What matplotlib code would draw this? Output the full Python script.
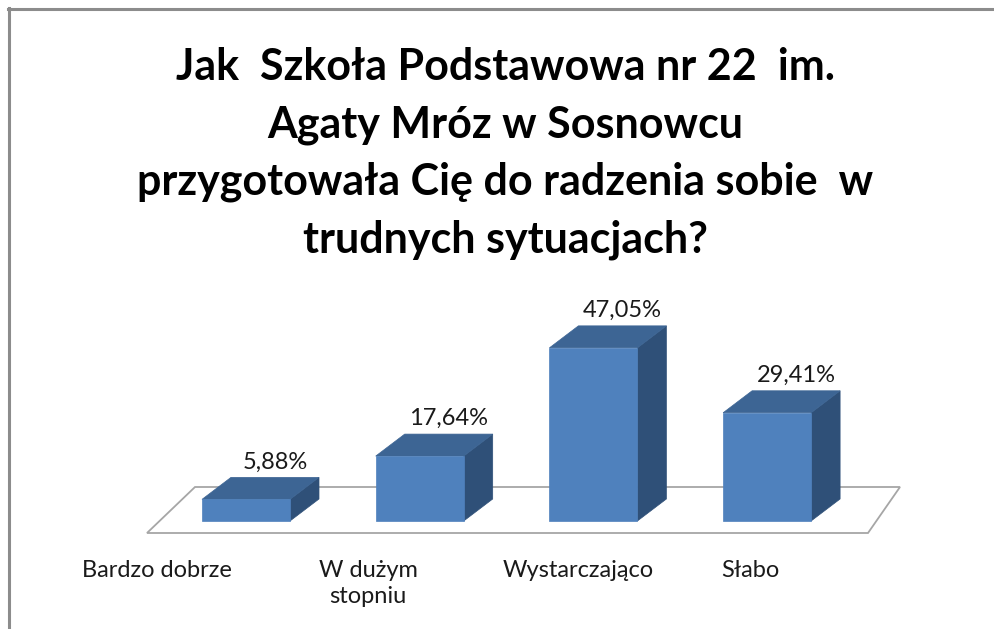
import matplotlib
matplotlib.use("Agg")
import matplotlib.pyplot as plt
from matplotlib.patches import Polygon, Rectangle

categories = ["Bardzo dobrze", "W dużym\nstopniu", "Wystarczająco", "Słabo"]
values = [5.88, 17.64, 47.05, 29.41]
value_labels = ["5,88%", "17,64%", "47,05%", "29,41%"]
title = "Jak  Szkoła Podstawowa nr 22  im.\nAgaty Mróz w Sosnowcu\nprzygotowała Cię do radzenia sobie  w\ntrudnych sytuacjach?"

W, H = 994, 629
fig = plt.figure(figsize=(W / 100, H / 100), dpi=100)
fig.patch.set_facecolor("white")

# pixel layout
px_per_cat = 173.7
px_per_pct = 3.68
x0_px = 246.0   # center of first bar front face
base_px = 521.0  # bar bottom (from top)

ax = fig.add_axes([0, 0, 1, 1])
ax.set_xlim(-x0_px / px_per_cat, (W - x0_px) / px_per_cat)
ax.set_ylim((base_px - H) / px_per_pct, base_px / px_per_pct)
ax.axis("off")

def to_dx(px):
    return px / px_per_cat

def to_dy(px):
    return px / px_per_pct

# outer frame (top & left border)
fig.add_artist(plt.Line2D([8 / W, 1], [1 - 9 / H, 1 - 9 / H], color="#8c8c8c", lw=2.2))
fig.add_artist(plt.Line2D([9 / W, 9 / W], [0, 1 - 8 / H], color="#8c8c8c", lw=2.2))

# floor
fl = [(147, 533), (868, 533), (900, 487), (195, 487)]
floor_pts = [((px - x0_px) / px_per_cat, (base_px - py) / px_per_pct) for px, py in fl]
ax.add_patch(Polygon(floor_pts, closed=True, facecolor="white", edgecolor="#a6a6a6", lw=1.3, zorder=1))

half = to_dx(44)
ddx = to_dx(29)
ddy = to_dy(22)
front_c = "#4f81bd"
top_c = "#3d6594"
side_c = "#2f5078"

for i, v in enumerate(values):
    l, r = i - half, i + half
    side = [(r, 0), (r + ddx, ddy), (r + ddx, v + ddy), (r, v)]
    top = [(l, v), (r, v), (r + ddx, v + ddy), (l + ddx, v + ddy)]
    ax.add_patch(Polygon(side, closed=True, facecolor=side_c, edgecolor=side_c, lw=0.5, zorder=2 + i))
    ax.add_patch(Polygon(top, closed=True, facecolor=top_c, edgecolor=top_c, lw=0.5, zorder=2 + i))
    ax.add_patch(Rectangle((l, 0), 2 * half, v, facecolor=front_c, edgecolor=front_c, lw=0.5, zorder=2 + i))
    ax.text(i + ddx, v + ddy + to_dy(5), value_labels[i], ha="center", va="bottom",
            fontsize=17, family="Lato", color="#1a1a1a", zorder=10)

label_centers_px = [157, 368, 578, 750]
for c, lx in zip(categories, label_centers_px):
    ax.text((lx - x0_px) / px_per_cat, (base_px - 560) / px_per_pct, c, ha="center", va="top",
            fontsize=17, family="Lato", color="#1a1a1a", linespacing=1.3)

fig.text(505 / W, 1 - 47 / H, title, ha="center", va="top", fontsize=31, fontweight="bold",
         family="Lato", color="black", linespacing=1.52)

fig.savefig("out.png", dpi=100, facecolor="white")
